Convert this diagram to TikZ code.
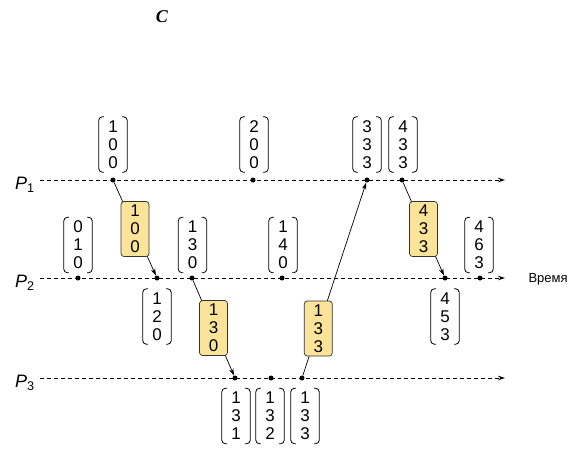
\documentclass[tikz,border=0pt]{standalone}
\usepackage{fontspec}
\setmainfont{Liberation Sans}
\newfontfamily\serifC{Liberation Serif}
\usetikzlibrary{arrows.meta,calc}
\definecolor{boxy}{HTML}{FBE49A}
\newcommand\vbrackets[1]{%
  \draw[brk] ([xshift=5pt]#1.north west) -- (#1.north west) -- (#1.south west) -- ([xshift=5pt]#1.south west);
  \draw[brk] ([xshift=-5pt]#1.north east) -- (#1.north east) -- (#1.south east) -- ([xshift=-5pt]#1.south east);}
\begin{document}
\begin{tikzpicture}[x=1pt,y=-1pt,
  axis/.style={dash pattern=on 4pt off 3pt, line width=0.8pt, -{Stealth[length=7pt,width=4.5pt]}},
  msg/.style={line width=0.7pt, -{Stealth[length=7pt,width=4.5pt]}},
  evt/.style={circle, fill=black, inner sep=0pt, minimum size=5pt},
  vecnode/.style={minimum width=28pt, minimum height=55pt, inner sep=0pt, align=center, font=\fontsize{17}{18}\selectfont},
  msgbox/.style={vecnode, draw=black!80, fill=boxy, rounded corners=3pt, line width=0.7pt},
  brk/.style={line width=0.8pt, rounded corners=3.5pt},
  plabel/.style={font=\fontsize{18}{18}\selectfont},
  timelabel/.style={font=\fontsize{13}{13}\selectfont, anchor=west}]
\useasboundingbox (0,0) rectangle (588,456);

% title symbol
\node (title) at (162,17) {\serifC\fontsize{18}{18}\selectfont\bfseries\itshape C};

% process labels
\node[plabel] (p1) at (25,185) {\itshape P\/\textsubscript{\upshape 1}};
\node[plabel] (p2) at (25,283) {\itshape P\/\textsubscript{\upshape 2}};
\node[plabel] (p3) at (25,383) {\itshape P\/\textsubscript{\upshape 3}};
\node[timelabel] (time) at (525,279) {Время};

% axis ends
\coordinate (s1) at (40,180); \coordinate (e1) at (505,180);
\coordinate (s2) at (40,278); \coordinate (e2) at (505,278);
\coordinate (s3) at (40,378); \coordinate (e3) at (505,378);
\draw[axis] (s1) -- (e1);
\draw[axis] (s2) -- (e2);
\draw[axis] (s3) -- (e3);

% events
\node[evt] (a1) at (113,180) {};
\node[evt] (a2) at (253,180) {};
\node[evt] (a3) at (367,180) {};
\node[evt] (a4) at (402,180) {};
\node[evt] (b1) at (78,278) {};
\node[evt] (b2) at (157,278) {};
\node[evt] (b3) at (192,278) {};
\node[evt] (b4) at (282,278) {};
\node[evt] (b5) at (445,278) {};
\node[evt] (b6) at (480,278) {};
\node[evt] (c1) at (235,378) {};
\node[evt] (c2) at (271,378) {};
\node[evt] (c3) at (302,378) {};

% messages
\draw[msg] (a1) -- (b2);
\draw[msg] (b3) -- (c1);
\draw[msg] (c3) -- (a3);
\draw[msg] (a4) -- (b5);

\node[msgbox] (m1) at ($(a1)!0.5!(b2)$) {1\\0\\0};
\node[msgbox] (m2) at ($(b3)!0.5!(c1)$) {1\\3\\0};
\node[msgbox] (m3) at ($(c3)!0.25!(a3)$) {1\\3\\3};
\node[msgbox] (m4) at ($(a4)!0.5!(b5)$) {4\\3\\3};

% vector clocks
\node[vecnode] (v1) at (113,144.5) {1\\0\\0}; \vbrackets{v1}
\node[vecnode] (v2) at (254,144.5) {2\\0\\0}; \vbrackets{v2}
\node[vecnode] (v3) at (367,144.5) {3\\3\\3}; \vbrackets{v3}
\node[vecnode] (v4) at (403,144.5) {4\\3\\3}; \vbrackets{v4}
\node[vecnode] (v5) at (78,245) {0\\1\\0}; \vbrackets{v5}
\node[vecnode] (v6) at (192.5,245) {1\\3\\0}; \vbrackets{v6}
\node[vecnode] (v7) at (283,245) {1\\4\\0}; \vbrackets{v7}
\node[vecnode] (v8) at (479,245) {4\\6\\3}; \vbrackets{v8}
\node[vecnode] (v9) at (157,316.5) {1\\2\\0}; \vbrackets{v9}
\node[vecnode] (v10) at (445,316.5) {4\\5\\3}; \vbrackets{v10}
\node[vecnode] (v11) at (236,416) {1\\3\\1}; \vbrackets{v11}
\node[vecnode] (v12) at (270,416) {1\\3\\2}; \vbrackets{v12}
\node[vecnode] (v13) at (305,416) {1\\3\\3}; \vbrackets{v13}
\end{tikzpicture}
\end{document}
